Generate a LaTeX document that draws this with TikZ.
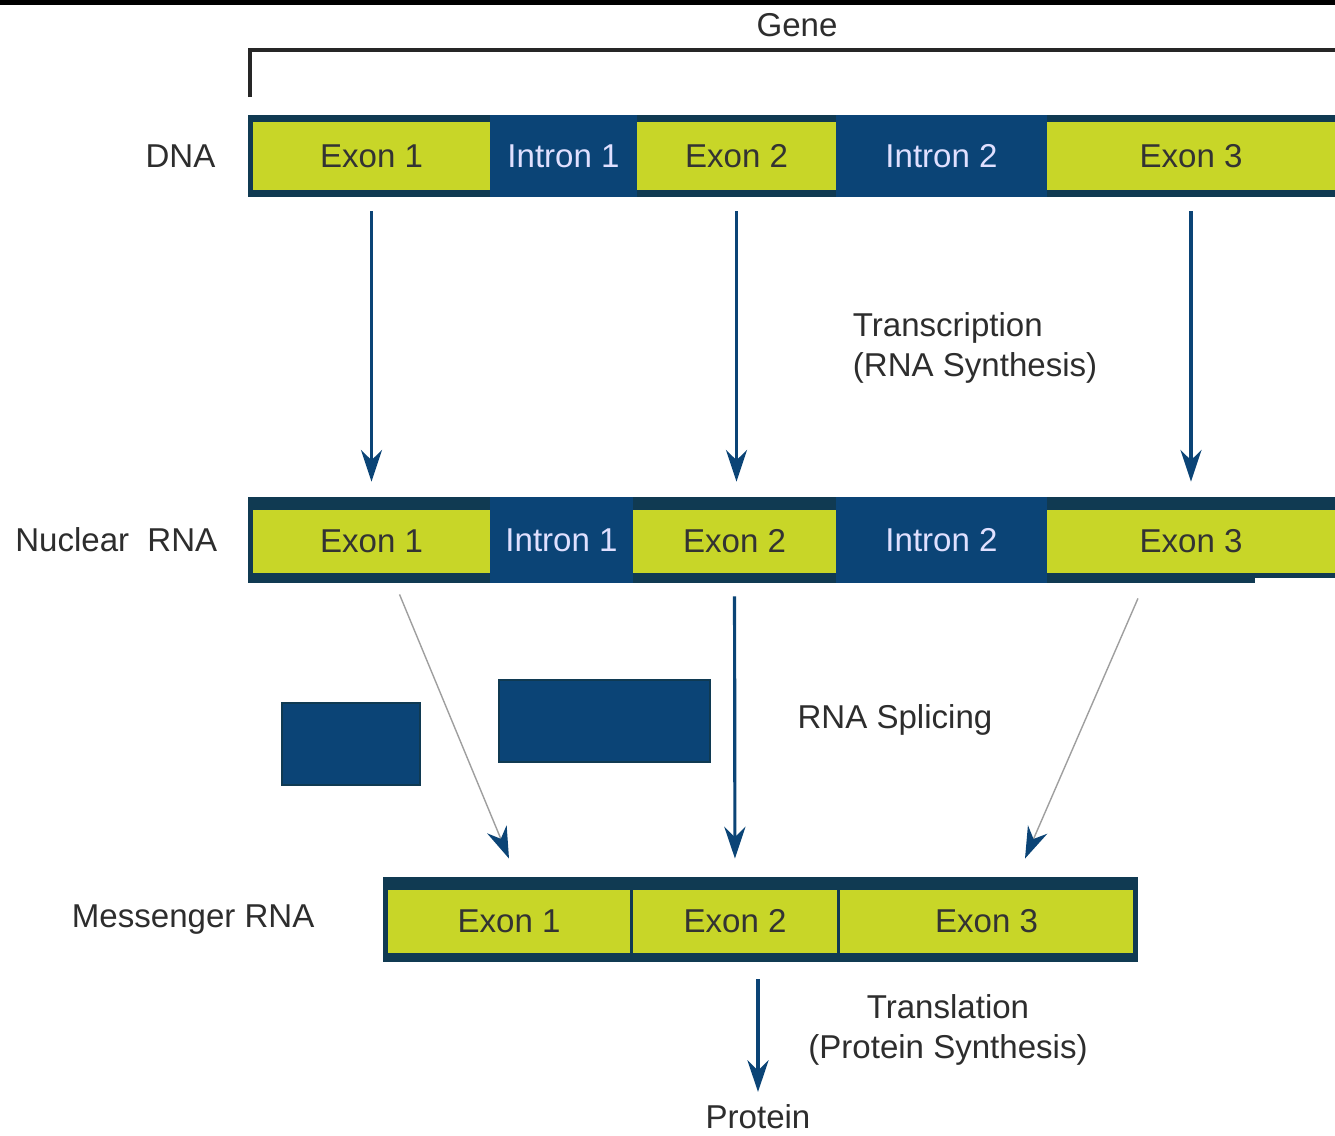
\documentclass[tikz,border=0pt]{standalone}
\usepackage{fontspec}
\setmainfont{Liberation Sans}
\usepackage{tikz}
\usetikzlibrary{arrows.meta, positioning}
\definecolor{exongreen}{RGB}{200,214,40}
\definecolor{intronblue}{RGB}{11,68,118}
\definecolor{bandblue}{RGB}{16,58,82}
\definecolor{labelgray}{RGB}{45,45,45}

\begin{document}
\begin{tikzpicture}[x=0.01cm, y=-0.01cm, thick,
  lbl/.style = {font=\fontsize{9.4}{11.4}\selectfont, text=labelgray, inner sep=1pt},
  strand/.style = {fill=bandblue, inner sep=0, minimum height=0.82cm},
  exon/.style = {fill=exongreen, inner sep=0, minimum height=0.68cm, font=\fontsize{9.4}{12}\selectfont, text=black!80},
  intron/.style = {fill=intronblue, inner sep=0, minimum height=0.82cm, font=\fontsize{9.4}{12}\selectfont, text=white!88!blue},
  cutout/.style = {fill=intronblue, draw=bandblue, line width=0.6pt, inner sep=0, minimum height=0.82cm},
  arr/.style = {draw=intronblue, line width=0.9pt, -{Stealth[length=9pt, width=6pt]}},
  splice/.style = {draw=gray!75, line width=0.4pt, -{Stealth[length=9pt, width=6pt, color=intronblue]}}]
  \useasboundingbox (0,0) rectangle (1335,1136);
  %top edge
  \fill[black] (0,0) rectangle (1335,5);

  %gene bracket
  \node[lbl] (gene) at (797,25) {Gene};
  \coordinate (gl) at (250,97);
  \coordinate (gc) at (250,50);
  \coordinate (gr) at (1335,50);
  \draw[black!85, line width=0.9pt] (gl) -- (gc) -- (gr);

  %DNA
  \node[strand, minimum width=10.87cm] (dna) at (791.5,156) {};
  \node[exon, minimum width=2.37cm] (dex1) at (371.5,156) {Exon 1};
  \node[intron, minimum width=1.47cm] (din1) at (563.5,156) {Intron 1};
  \node[exon, minimum width=1.99cm] (dex2) at (736.5,156) {Exon 2};
  \node[intron, minimum width=2.11cm] (din2) at (941.5,156) {Intron 2};
  \node[exon, minimum width=2.88cm] (dex3) at (1191,156) {Exon 3};
  \node[lbl, left=0.26cm of dna] (dnalbl) {DNA};

  %nuclear RNA
  \node[strand, minimum width=10.87cm, minimum height=0.86cm] (nrna) at (791.5,540) {};
  \node[exon, minimum width=2.37cm, minimum height=0.63cm] (nex1) at (371.5,541.5) {Exon 1};
  \node[intron, minimum width=1.43cm, minimum height=0.86cm] (nin1) at (561.5,540) {Intron 1};
  \node[exon, minimum width=2.03cm, minimum height=0.63cm] (nex2) at (734.5,541.5) {Exon 2};
  \node[intron, minimum width=2.11cm, minimum height=0.86cm] (nin2) at (941.5,540) {Intron 2};
  \node[exon, minimum width=2.88cm, minimum height=0.63cm] (nex3) at (1191,541.5) {Exon 3};
  \fill[white] (1255,578) rectangle (1335,584);
  \node[lbl, left=0.24cm of nrna] (nrnalbl) {Nuclear\ \ RNA};

  %transcription
  \draw[arr, shorten <=0.13cm, shorten >=0.14cm] (dex1 |- dna.south) -- (dex1 |- nrna.north);
  \draw[arr, shorten <=0.13cm, shorten >=0.14cm] (dex2 |- dna.south) -- (dex2 |- nrna.north);
  \draw[arr, shorten <=0.13cm, shorten >=0.14cm] (dex3 |- dna.south) -- (dex3 |- nrna.north);
  \node[lbl, anchor=west, align=left] (transc) at (848,348) {Transcription\\(RNA Synthesis)};

  %messenger RNA
  \node[strand, minimum width=7.55cm, minimum height=0.85cm] (mrna) at (760.5,919.5) {};
  \node[exon, minimum width=2.42cm, minimum height=0.63cm] (mex1) at (509,921.5) {Exon 1};
  \node[exon, minimum width=2.04cm, minimum height=0.63cm] (mex2) at (735,921.5) {Exon 2};
  \node[exon, minimum width=2.93cm, minimum height=0.63cm] (mex3) at (986.5,921.5) {Exon 3};
  \node[lbl, left=0.62cm of mrna] (mrnalbl) {Messenger RNA};

  %cut out introns
  \node[cutout, minimum width=1.38cm] (cut1) at (351,744) {};
  \node[cutout, minimum width=2.11cm] (cut2) at (604.5,721) {};

  %splicing
  \coordinate (sp1) at ([xshift=0.28cm, yshift=-0.2cm]nex1.south);
  \coordinate (se1) at ([yshift=0.3cm]mex1.north);
  \coordinate (sp3) at ([xshift=-0.53cm, yshift=-0.24cm]nex3.south);
  \coordinate (se3) at ([xshift=0.385cm, yshift=0.3cm]mex3.north);
  \draw[splice] (sp1) -- (se1);
  \draw[arr, shorten <=0.22cm, shorten >=0.3cm] (nex2.south) -- (mex2.north);
  \draw[splice] (sp3) -- (se3);
  \node[lbl] (splicing) at (895,720) {RNA Splicing};

  %translation
  \node[lbl] (protein) at (758,1117) {Protein};
  \draw[arr, shorten <=0.16cm, shorten >=0.08cm] (protein |- mrna.south) -- (protein.north);
  \node[lbl, align=center] (transl) at (948,1030) {Translation\\(Protein Synthesis)};
\end{tikzpicture}
\end{document}
